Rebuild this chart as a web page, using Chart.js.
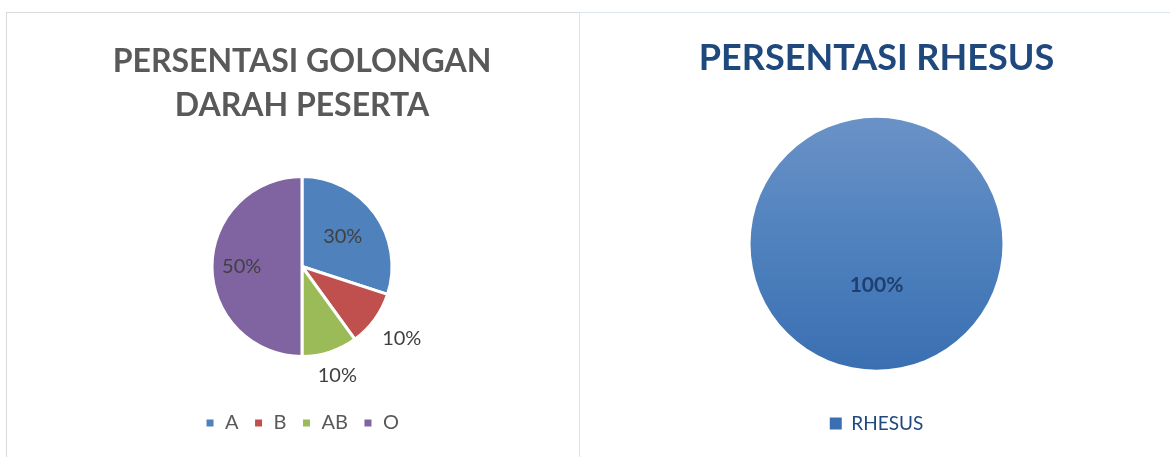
<!DOCTYPE html>
<html>
<head>
<meta charset="utf-8">
<script src="https://cdn.jsdelivr.net/npm/chart.js@4.4.1/dist/chart.umd.min.js"></script>
<style>
  html, body { margin: 0; padding: 0; background: #fff; }
  body { width: 1170px; height: 457px; position: relative; overflow: hidden; }
  .box { position: absolute; top: 12px; box-sizing: border-box; }
  #boxLeft { left: 6px; width: 573px; height: 460px; border-left: 1px solid #d9d9d9; border-top: 1px solid #d9d9d9; }
  #boxRight { left: 579px; width: 600px; height: 460px; border-left: 1px solid #dbe5f1; border-top: 1px solid #dbe5f1; }
  canvas { position: absolute; }
</style>
</head>
<body>
<div class="box" id="boxLeft"></div>
<div class="box" id="boxRight"></div>
<canvas id="golongan" style="left:6px;top:12px" width="572" height="445"></canvas>
<canvas id="rhesus" style="left:579px;top:12px" width="591" height="445"></canvas>
<script>
const golonganLabels = ['A', 'B', 'AB', 'O'];
const golonganValues = [30, 10, 10, 50];
const golonganColors = ['#4f81bd', '#c0504d', '#9bbb59', '#8064a2'];

const rhesusLabels = ['RHESUS'];
const rhesusValues = [100];

const FONT = 'Lato, "Open Sans", sans-serif';

// simple data label plugin: label at mid angle, radius factor per slice
const pieLabels = {
  id: 'pieLabels',
  afterDatasetsDraw(chart, args, opts) {
    const { ctx } = chart;
    const meta = chart.getDatasetMeta(0);
    const values = chart.data.datasets[0].data;
    const total = values.reduce((a, b) => a + b, 0);
    ctx.save();
    ctx.font = opts.font;
    ctx.fillStyle = opts.color;
    ctx.textAlign = 'center';
    ctx.textBaseline = 'middle';
    meta.data.forEach((arc, i) => {
      const { x, y, startAngle, endAngle, outerRadius } = arc.getProps(['x', 'y', 'startAngle', 'endAngle', 'outerRadius'], true);
      const mid = (startAngle + endAngle) / 2;
      const r = outerRadius * opts.radius[i];
      const pct = Math.round(values[i] / total * 100) + '%';
      ctx.fillText(pct, x + Math.cos(mid) * r, y + Math.sin(mid) * r);
    });
    ctx.restore();
  }
};

new Chart(document.getElementById('golongan'), {
  type: 'pie',
  data: {
    labels: golonganLabels,
    datasets: [{
      data: golonganValues,
      backgroundColor: golonganColors,
      borderColor: '#ffffff',
      borderWidth: 3,
      radius: 90,
    }],
  },
  options: {
    responsive: false,
    animation: false,
    layout: { padding: { left: 20, bottom: 14 } },
    plugins: {
      title: {
        display: true,
        text: ['PERSENTASI GOLONGAN', 'DARAH PESERTA'],
        color: '#595959',
        font: { family: FONT, size: 32, weight: 'bold', lineHeight: 1.375 },
        padding: { top: 28, bottom: 7 },
      },
      legend: {
        position: 'bottom',
        labels: {
          color: '#595959',
          font: { family: FONT, size: 20 },
          boxWidth: 10,
          boxHeight: 10,
          padding: 15,
        },
      },
      tooltip: { enabled: false },
      pieLabels: { font: '20px ' + FONT, color: '#404040', radius: [0.56, 1.37, 1.27, 0.67] },
    },
  },
  plugins: [pieLabels],
});

function rhesusFill(context) {
  const area = context.chart.chartArea;
  if (!area) return '#4f81bd';
  const cy = (area.top + area.bottom) / 2;
  const g = context.chart.ctx.createLinearGradient(0, cy - 126, 0, cy + 126);
  g.addColorStop(0, '#6a92c7');
  g.addColorStop(0.5, '#4f81bd');
  g.addColorStop(1, '#3a6fb2');
  return g;
}

new Chart(document.getElementById('rhesus'), {
  type: 'pie',
  data: {
    labels: rhesusLabels,
    datasets: [{
      data: rhesusValues,
      backgroundColor: rhesusFill,
      borderWidth: 0,
      radius: 126,
    }],
  },
  options: {
    responsive: false,
    animation: false,
    layout: { padding: { left: 4, bottom: 14 } },
    plugins: {
      title: {
        display: true,
        text: 'PERSENTASI RHESUS',
        color: '#1f497d',
        font: { family: FONT, size: 36, weight: 'bold', lineHeight: 1.375 },
        padding: { top: 22, bottom: 7 },
      },
      legend: {
        position: 'bottom',
        labels: {
          color: '#1f497d',
          font: { family: FONT, size: 19 },
          boxWidth: 12,
          boxHeight: 12,
          padding: 17,
        },
      },
      tooltip: { enabled: false },
      pieLabels: { font: 'bold 21px ' + FONT, color: '#1f3f6e', radius: [0.33] },
    },
  },
  plugins: [pieLabels],
});
</script>
</body>
</html>
